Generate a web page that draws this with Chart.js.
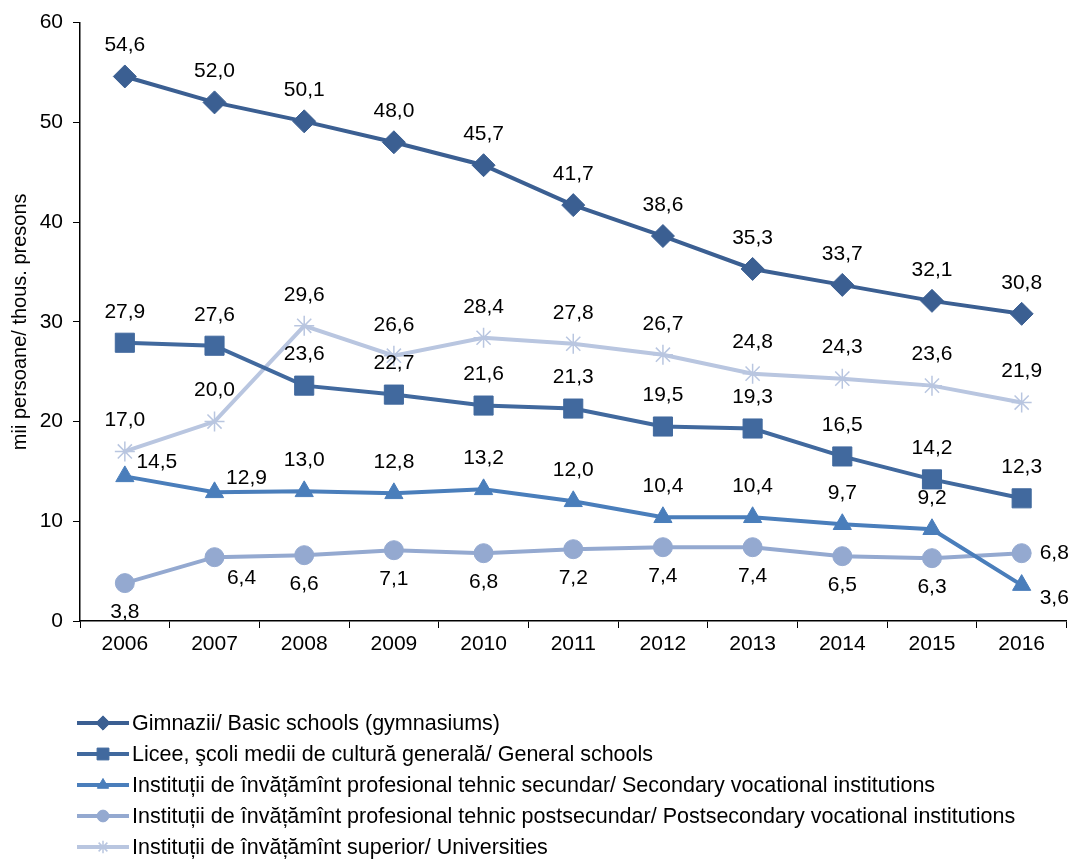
<!DOCTYPE html>
<html>
<head>
<meta charset="utf-8">
<script src="https://cdn.jsdelivr.net/npm/chart.js@4/dist/chart.umd.min.js"></script>
<style>
  html, body { margin: 0; padding: 0; background: #fff; }
  #wrap { width: 1081px; height: 861px; position: relative; }
</style>
</head>
<body>
<div id="wrap"><canvas id="chart"></canvas></div>
<script>
const years = ["2006", "2007", "2008", "2009", "2010", "2011", "2012", "2013", "2014", "2015", "2016"];

const gimnazii = [54.6, 52.0, 50.1, 48.0, 45.7, 41.7, 38.6, 35.3, 33.7, 32.1, 30.8];
const licee = [27.9, 27.6, 23.6, 22.7, 21.6, 21.3, 19.5, 19.3, 16.5, 14.2, 12.3];
const secundar = [14.5, 12.9, 13.0, 12.8, 13.2, 12.0, 10.4, 10.4, 9.7, 9.2, 3.6];
const postsecundar = [3.8, 6.4, 6.6, 7.1, 6.8, 7.2, 7.4, 7.4, 6.5, 6.3, 6.8];
const superior = [17.0, 20.0, 29.6, 26.6, 28.4, 27.8, 26.7, 24.8, 24.3, 23.6, 21.9];

const seriesNames = [
  "Gimnazii/ Basic schools (gymnasiums)",
  "Licee, şcoli medii de cultură generală/ General schools",
  "Instituții de învățămînt profesional tehnic secundar/ Secondary vocational institutions",
  "Instituții de învățămînt profesional tehnic postsecundar/ Postsecondary vocational institutions",
  "Instituții de învățămînt superior/ Universities"
];

const yTicks = [0, 10, 20, 30, 40, 50, 60];

// label placement (style only): a above, b below, r right, rb right-below, ar above-right, br below-right
const labelPos = [
  Array(11).fill("a"),
  Array(11).fill("a"),
  ["ar", "ar", "a", "a", "a", "a", "a", "a", "a", "a", "rb"],
  ["b", "br", "b", "b", "b", "b", "b", "b", "b", "b", "r"],
  Array(11).fill("a")
];

const FONT = "'Liberation Sans', Arial, sans-serif";

function fmt(v) {
  return v.toFixed(1).replace(".", ",");
}

const labelPlugin = {
  id: "labels",
  afterDatasetsDraw(chart) {
    const ctx = chart.ctx;
    ctx.save();
    ctx.font = "21px " + FONT;
    ctx.fillStyle = "#000";
    ctx.textBaseline = "middle";
    chart.data.datasets.forEach((ds, i) => {
      const meta = chart.getDatasetMeta(i);
      meta.data.forEach((pt, j) => {
        const pos = labelPos[i][j];
        let x = pt.x, y = pt.y;
        ctx.textAlign = "center";
        if (pos === "a") y -= 31;
        else if (pos === "b") y += 29;
        else if (pos === "r") { x += 18; ctx.textAlign = "left"; }
        else if (pos === "rb") { x += 18; y += 13; ctx.textAlign = "left"; }
        else if (pos === "ar") { x += 32; y -= 14; }
        else if (pos === "br") { x += 27; y += 21; }
        ctx.fillText(fmt(ds.data[j]), x, y);
      });
    });
    ctx.restore();
  }
};

const legendPlugin = {
  id: "customLegend",
  afterDraw(chart) {
    const ctx = chart.ctx;
    ctx.save();
    ctx.font = "21.5px " + FONT;
    ctx.textBaseline = "middle";
    ctx.textAlign = "left";
    chart.data.datasets.forEach((ds, i) => {
      const y = 723 + i * 31;
      ctx.strokeStyle = ds.borderColor;
      ctx.lineWidth = 4;
      ctx.beginPath();
      ctx.moveTo(77, y);
      ctx.lineTo(129, y);
      ctx.stroke();
      ctx.fillStyle = ds.backgroundColor;
      ctx.lineWidth = ds.pointStyle === "star" ? 1.5 : 1;
      Chart.helpers.drawPoint(ctx, { pointStyle: ds.pointStyle, radius: ds.pointRadius * 0.62, rotation: 0, borderWidth: 1 }, 103, y);
      ctx.fillStyle = "#000";
      ctx.fillText(seriesNames[i], 132, y + 1);
    });
    ctx.restore();
  }
};

function ds(i, data, color, style, radius) {
  return {
    label: seriesNames[i],
    data: data,
    borderColor: color,
    backgroundColor: color,
    borderWidth: 4,
    pointStyle: style,
    pointRadius: radius,
    pointBorderWidth: style === "star" ? 1.5 : 1,
    pointBackgroundColor: color,
    pointBorderColor: color,
    tension: 0
  };
}

new Chart(document.getElementById("chart"), {
  type: "line",
  data: {
    labels: years,
    datasets: [
      ds(0, gimnazii, "#3b5f92", "rectRot", 11.5),
      ds(1, licee, "#41699e", "rect", 13.5),
      ds(2, secundar, "#4a7ebb", "triangle", 10.5),
      ds(3, postsecundar, "#94a9d0", "circle", 9.5),
      ds(4, superior, "#b9c6e0", "star", 10)
    ]
  },
  options: {
    responsive: true,
    maintainAspectRatio: false,
    animation: false,
    layout: { padding: { top: 18, right: 9, left: 0, bottom: 200 } },
    plugins: {
      legend: { display: false },
      tooltip: { enabled: false }
    },
    scales: {
      x: {
        offset: true,
        grid: { offset: true, drawOnChartArea: false, drawTicks: true, tickLength: 7, color: "#000" },
        border: { color: "#000", width: 1.5 },
        ticks: { color: "#000", font: { size: 21, family: FONT }, padding: 4, maxRotation: 0 },
        afterFit(scale) { scale.height = 40; }
      },
      y: {
        min: 0,
        max: 60,
        afterBuildTicks(scale) { scale.ticks = yTicks.map((v) => ({ value: v })); },
        grid: { drawOnChartArea: false, drawTicks: true, tickLength: 7, color: "#000" },
        border: { color: "#000", width: 1.5 },
        ticks: { color: "#000", font: { size: 21, family: FONT }, padding: 10 },
        title: { display: true, text: "mii persoane/ thous. presons", color: "#000", font: { size: 20, family: FONT }, padding: { top: 8, bottom: 0 } },
        afterFit(scale) { scale.width = 80; }
      }
    }
  },
  plugins: [labelPlugin, legendPlugin]
});
</script>
</body>
</html>
